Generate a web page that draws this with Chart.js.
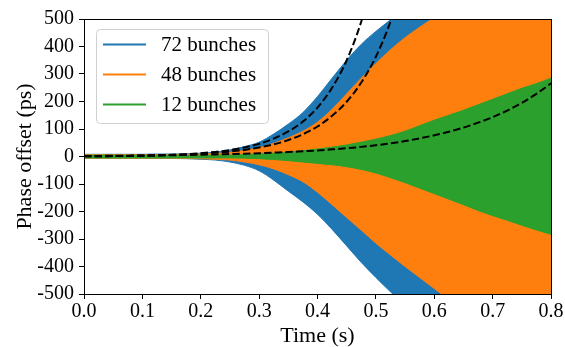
<!DOCTYPE html>
<html><head><meta charset="utf-8">
<script src="https://cdn.jsdelivr.net/npm/chart.js@4/dist/chart.umd.min.js"></script>
<style>html,body{margin:0;padding:0;background:#fff;overflow:hidden}</style>
</head><body>
<canvas id="c" width="565" height="347"></canvas>
<script>
// ---- data ----
const time = [0,0.025,0.05,0.075,0.1,0.125,0.15,0.175,0.2,0.225,0.25,0.275,0.3,0.325,0.35,0.375,0.4,0.425,0.45,0.475,0.5,0.525,0.55,0.575,0.6,0.625,0.65,0.675,0.7,0.725,0.75,0.775,0.8];
const seriesNames = ['72 bunches','48 bunches','12 bunches'];
const seriesColors = ['#1f77b4','#ff7f0e','#2ca02c'];
// envelope of the oscillating phase offset (ps)
const upper72 = [8,8,8,8,8,9,9,10,12,16,24,36,52,82,118,160,218,285,350,408,455,497,540,580,620,660,700];
const lower72 = [-6,-6,-6,-6,-6,-7,-7,-8,-10,-13,-20,-32,-52,-86,-126,-165,-210,-265,-325,-385,-440,-492,-540,-580,-620,-660,-700];
const upper48 = [7,7,7,7,7,7,7,8,9,11,15,22,32,48,68,92,125,172,228,285,338,388,432,470,505,540,575,610,645,680,715,750,785];
const lower48 = [-6,-6,-6,-6,-6,-6,-6,-7,-8,-10,-13,-20,-30,-45,-66,-92,-130,-175,-222,-268,-315,-358,-400,-440,-480,-520,-560,-600,-640,-680,-720,-760,-800];
const upper12 = [5,5,5,5,5,5,5,5,5,5,5,7,9,12,16,21,27,34,42,52,63,76,92,112,132,150,168,188,208,228,248,265,285];
const lower12 = [-5,-5,-5,-5,-5,-5,-5,-5,-5,-5,-5,-6,-8,-11,-15,-20,-25,-30,-37,-47,-60,-77,-95,-115,-135,-155,-175,-196,-215,-232,-250,-267,-283];
// dashed exponential fits
const fit72 = [0.8,1.1,1.6,2.2,3.1,4.4,6.1,8.6,12,16.8,23.6,33,46,65,91,127,178,250,350,491,688];
const fit48 = [0.9,1.2,1.6,2.2,3,4,5.4,7.3,9.9,13.4,18,24,33,44,60,81,109,148,199,269,363,490,661];
const fit12 = [1.9,2.2,2.5,3,3.5,4,4.7,5.5,6.4,7.5,8.8,10,12,14,16,19,22,26,30,35,41,48,56,66,77,90,105,123,143,167,195,228,266];
// axes
const xTicks = [0,0.1,0.2,0.3,0.4,0.5,0.6,0.7,0.8];
const xTickLabels = ['0.0','0.1','0.2','0.3','0.4','0.5','0.6','0.7','0.8'];
const yTicks = [-500,-400,-300,-200,-100,0,100,200,300,400,500];
const yTickLabels = ['-500','-400','-300','-200','-100','0','100','200','300','400','500'];
const xTitle = 'Time (s)';
const yTitle = 'Phase offset (ps)';

// ---- build ----
const FONT = "'Liberation Serif', 'Times New Roman', serif";
const pts = ys => ys.map((y,i)=>({x:time[i], y}));
function band(top, bottom, color, order, name){
  const common = {borderColor: color, backgroundColor: color, borderWidth: 1, pointRadius: 0,
                  cubicInterpolationMode: 'monotone', order};
  return [
    Object.assign({label: name, data: pts(top), fill: '+1'}, common),
    Object.assign({label: name + ' (lower)', data: pts(bottom), fill: false}, common)
  ];
}
function fitLine(vals){
  return {label: 'fit', data: pts(vals), borderColor: '#000', borderWidth: 2, borderDash: [7.4, 3.2],
          fill: false, pointRadius: 0, cubicInterpolationMode: 'monotone', order: 0};
}
const datasets = [
  ...band(upper72, lower72, seriesColors[0], 3, seriesNames[0]),
  ...band(upper48, lower48, seriesColors[1], 2, seriesNames[1]),
  ...band(upper12, lower12, seriesColors[2], 1, seriesNames[2]),
  fitLine(fit72), fitLine(fit48), fitLine(fit12)
];

const framePlugin = {
  id: 'frame',
  afterDraw(chart){
    const ctx = chart.ctx, a = chart.chartArea;
    ctx.save();
    ctx.strokeStyle = '#000'; ctx.lineWidth = 1;
    ctx.strokeRect(Math.round(a.left)+0.5, Math.round(a.top)+0.5,
                   Math.round(a.right)-Math.round(a.left), Math.round(a.bottom)-Math.round(a.top));
    // legend
    const lx = 96.5, ly = 29.5, lw = 172, lh = 94, r = 4;
    ctx.beginPath();
    ctx.moveTo(lx+r, ly); ctx.lineTo(lx+lw-r, ly); ctx.arcTo(lx+lw, ly, lx+lw, ly+r, r);
    ctx.lineTo(lx+lw, ly+lh-r); ctx.arcTo(lx+lw, ly+lh, lx+lw-r, ly+lh, r);
    ctx.lineTo(lx+r, ly+lh); ctx.arcTo(lx, ly+lh, lx, ly+lh-r, r);
    ctx.lineTo(lx, ly+r); ctx.arcTo(lx, ly, lx+r, ly, r); ctx.closePath();
    ctx.fillStyle = 'rgba(255,255,255,0.8)'; ctx.fill();
    ctx.strokeStyle = '#d0d0d0'; ctx.lineWidth = 1; ctx.stroke();
    ctx.font = "21px " + FONT; ctx.textBaseline = 'middle'; ctx.textAlign = 'left';
    const ys = [44.5, 74.5, 104.5];
    seriesNames.forEach((n,i)=>{
      ctx.strokeStyle = seriesColors[i]; ctx.lineWidth = 2;
      ctx.beginPath(); ctx.moveTo(103, ys[i]); ctx.lineTo(146, ys[i]); ctx.stroke();
      ctx.fillStyle = '#000'; ctx.fillText(n, 161, ys[i]+1);
    });
    ctx.restore();
  }
};

new Chart(document.getElementById('c'), {
  type: 'line',
  data: {datasets},
  plugins: [framePlugin],
  options: {
    responsive: false, animation: false, devicePixelRatio: 1,
    layout: {padding: {left: 0, top: 19, right: 14, bottom: 0}},
    plugins: {legend: {display: false}, tooltip: {enabled: false}},
    scales: {
      x: {
        type: 'linear', min: 0, max: 0.8,
        afterBuildTicks: s => { s.ticks = xTicks.map(v => ({value: v})); },
        afterFit: s => { s.height = 53; s.paddingLeft = 0; s.paddingRight = 0; },
        ticks: {callback: (v, i) => xTickLabels[i], color: '#000', padding: 1, maxRotation: 0, autoSkip: false,
                font: {family: FONT, size: 20}},
        grid: {drawOnChartArea: false, drawTicks: true, tickLength: 5, color: '#000', lineWidth: 1},
        border: {display: false},
        title: {display: true, text: xTitle, color: '#000', font: {family: FONT, size: 22}, padding: {top: 0, bottom: -2}}
      },
      y: {
        type: 'linear', min: -500, max: 500,
        afterBuildTicks: s => { s.ticks = yTicks.map(v => ({value: v})); },
        afterFit: s => { s.width = 84; s.paddingTop = 0; s.paddingBottom = 0; },
        ticks: {callback: (v, i) => yTickLabels[i], color: '#000', padding: 5, autoSkip: false,
                font: {family: FONT, size: 20}},
        grid: {drawOnChartArea: false, drawTicks: true, tickLength: 5, color: '#000', lineWidth: 1},
        border: {display: false},
        title: {display: true, text: yTitle, color: '#000', font: {family: FONT, size: 22}, padding: {top: 12, bottom: 0}}
      }
    }
  }
});
</script>
</body></html>
